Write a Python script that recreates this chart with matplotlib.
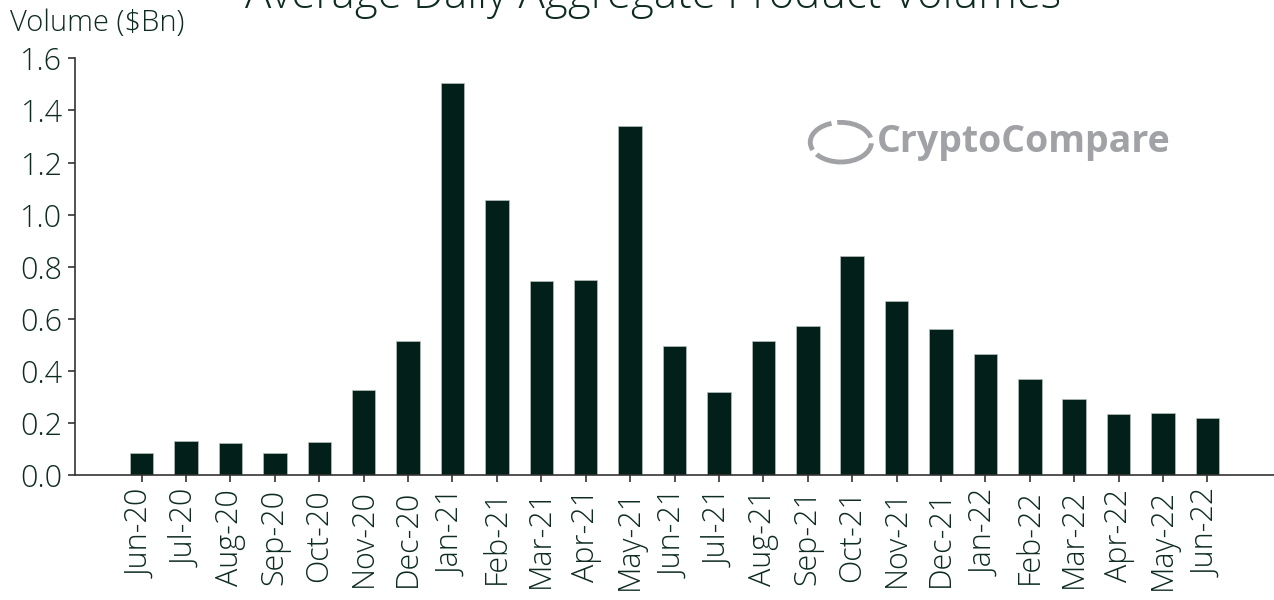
"""Average daily aggregate product volumes bar chart."""

import matplotlib.pyplot as plt
from matplotlib.patches import Ellipse

months = [
    "Jun-20", "Jul-20", "Aug-20", "Sep-20", "Oct-20", "Nov-20", "Dec-20",
    "Jan-21", "Feb-21", "Mar-21", "Apr-21", "May-21", "Jun-21", "Jul-21",
    "Aug-21", "Sep-21", "Oct-21", "Nov-21", "Dec-21", "Jan-22", "Feb-22",
    "Mar-22", "Apr-22", "May-22", "Jun-22",
]
volumes = [
    0.084, 0.132, 0.123, 0.084, 0.128, 0.326, 0.517,
    1.507, 1.056, 0.746, 0.749, 1.340, 0.495, 0.320,
    0.517, 0.574, 0.842, 0.668, 0.560, 0.467, 0.368,
    0.292, 0.235, 0.238, 0.219,
]
yticks = [0.0, 0.2, 0.4, 0.6, 0.8, 1.0, 1.2, 1.4, 1.6]

bar_color = "#022019"
text_color = "#0d2b22"
plt.rcParams["font.family"] = ["Open Sans", "DejaVu Sans"]

fig = plt.figure(figsize=(12.74, 6.0), dpi=100)
ax = fig.add_axes([0.0589, 0.2078, 0.9411, 0.695])

x = list(range(len(months)))
ax.bar(x, volumes, width=0.53, color=bar_color, edgecolor="#b8c0bc", linewidth=0.5)

ax.set_xlim(-1.5, len(months) + 0.5)
ax.set_ylim(0, 1.6)
ax.set_yticks(yticks)
ax.set_yticklabels([f"{v:.1f}" for v in yticks], fontsize=22,
                   color=text_color, fontweight="light")
ax.set_xticks(x)
ax.set_xticklabels(months, rotation=90, fontsize=22, color=text_color,
                   fontweight="light")
ax.tick_params(axis="both", direction="out", length=5, width=1.2, color="#333333")
ax.tick_params(axis="x", pad=5)
ax.tick_params(axis="y", pad=4)

for side in ("top", "right"):
    ax.spines[side].set_visible(False)
for side in ("left", "bottom"):
    ax.spines[side].set_color("#333333")
    ax.spines[side].set_linewidth(1.2)

fig.text(0.513, 0.986, "Average Daily Aggregate Product Volumes",
         ha="center", va="baseline", fontsize=31.5, color=text_color,
         fontweight="light")
fig.text(0.008, 0.948, "Volume ($Bn)", ha="left", va="baseline",
         fontsize=21, color=text_color, fontweight="light")

# watermark
fig.text(0.688, 0.763, "CryptoCompare", ha="left", va="center",
         fontsize=27, fontweight="bold", color="#a0a2a6")
fig.patches.append(Ellipse((0.660, 0.763), 0.048, 0.066, transform=fig.transFigure,
                           fill=False, edgecolor="#a0a2a6", linewidth=3.5,
                           linestyle=(0, (8, 1.2))))

fig.savefig("out.png", dpi=100)
plt.close(fig)
